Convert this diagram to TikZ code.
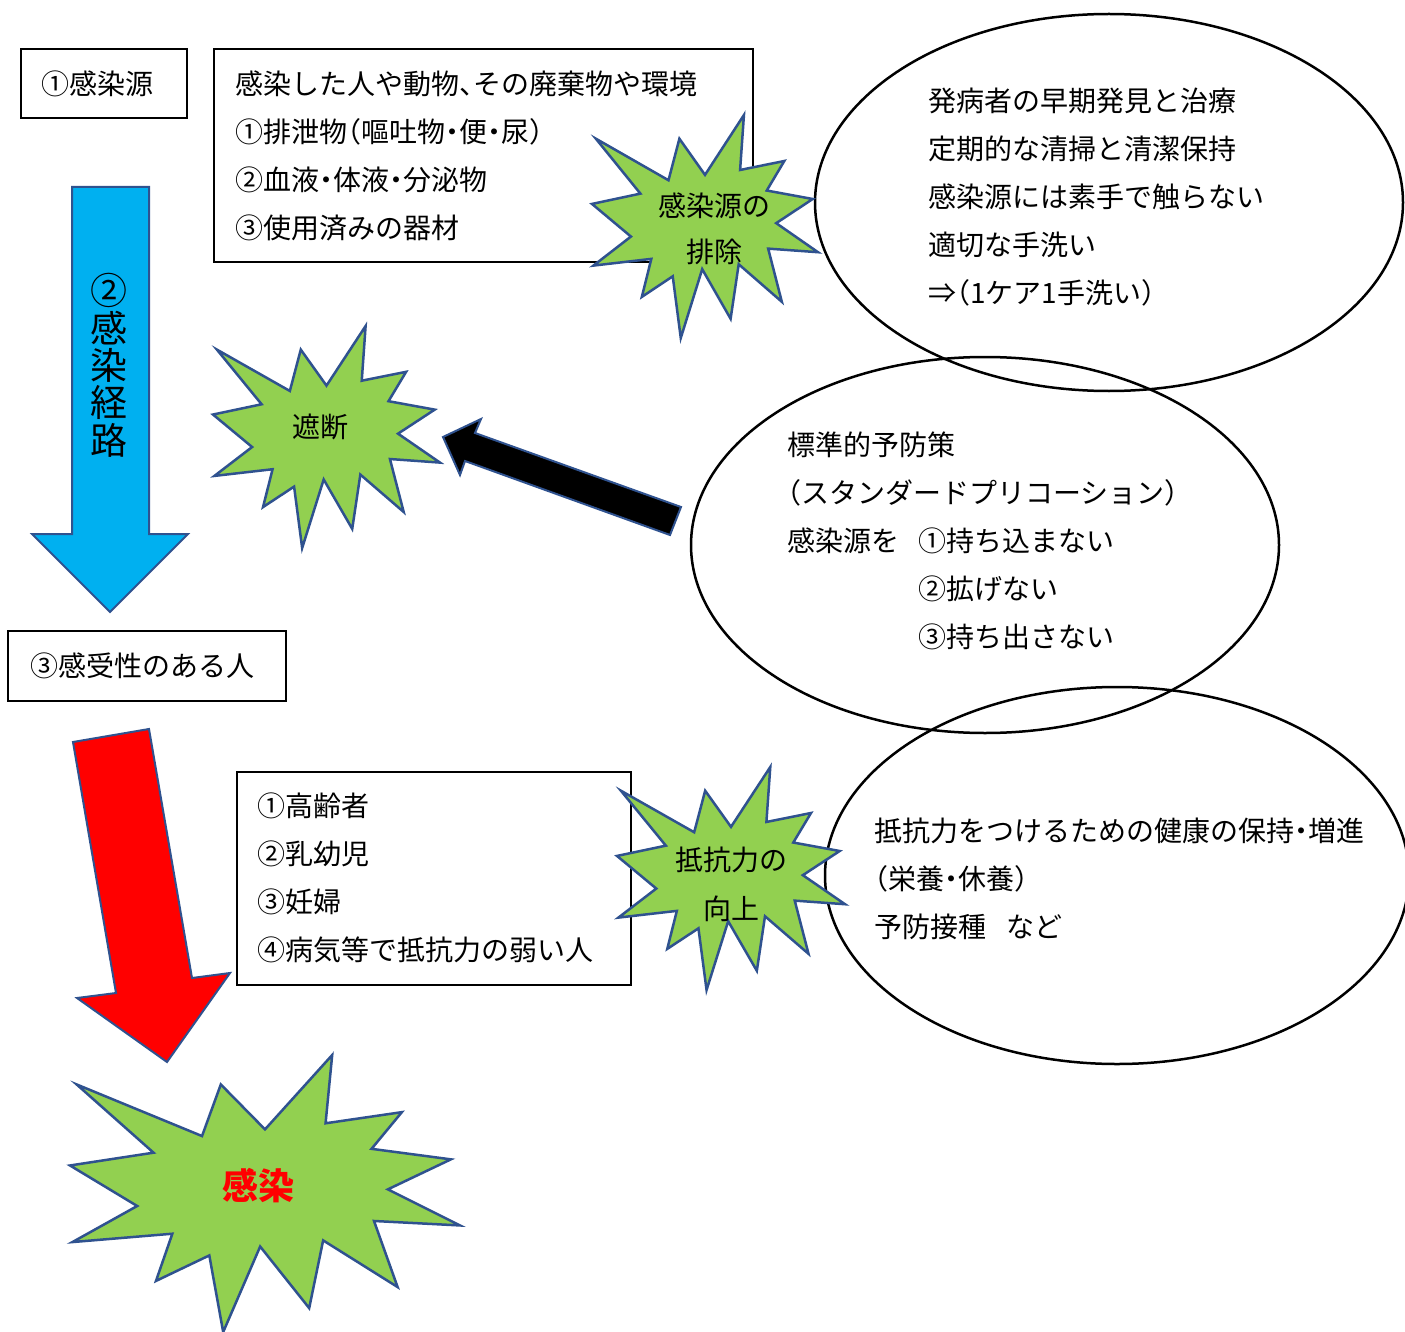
\documentclass[tikz,border=0pt]{standalone}
\usepackage{fontspec}
\setmainfont{Noto Sans CJK JP}[RawFeature={+halt}]
\definecolor{stargreen}{HTML}{92D050}
\definecolor{starblue}{HTML}{2F528F}
\definecolor{arrowcyan}{HTML}{00B0F0}
\newcommand\boom[4]{%
  \begin{scope}[shift={(#1,#2)},xscale=#3/100,yscale=#4/100]
    \draw[starline] (50,26.85) -- (67.23,0) -- (65.53,24.65) -- (85.09,20.63) -- (77.32,33.87) -- (97.67,37.67) -- (81.51,48.50) -- (100,61.53) -- (77.95,59.92) -- (84.00,83.77) -- (64.91,66.93) -- (61.33,91.38) -- (48.76,69.14) -- (39.28,100) -- (35.72,72.35) -- (22.05,81.56) -- (26.24,64.52) -- (0.63,67.53) -- (17.23,54.51) -- (0,39.88) -- (21.42,35.26) -- (1.71,10.63) -- (33.85,29.26) -- (38.67,10.63) -- cycle;
  \end{scope}}
\begin{document}
\begin{tikzpicture}[x=1pt,y=-1pt,
  txt/.style={anchor=west,inner sep=0pt,font=\fontsize{28}{33}\selectfont,text height=24.6pt,text depth=3.4pt},
  ctxt/.style={txt,anchor=center},
  vtxt/.style={anchor=center,inner sep=0pt,font=\fontsize{37}{40}\selectfont,text height=32.6pt,text depth=4.4pt},
  box/.style={draw=black,line width=2pt,fill=white},
  oval/.style={draw=black,line width=2.5pt},
  starline/.style={draw=starblue,line width=2.5pt,fill=stargreen,line join=miter},
  arrowline/.style={draw=starblue,line width=2pt,line join=miter}]

\useasboundingbox (0,0) rectangle (1405,1332);
\clip (0,0) rectangle (1405,1332);

% ellipses
\draw[oval] (1109,202.5) ellipse [x radius=294pt, y radius=188.5pt];
\draw[oval] (985,545) ellipse [x radius=294pt, y radius=188pt];
\draw[oval] (1117,875.5) ellipse [x radius=292pt, y radius=188.5pt];

% boxes
\draw[box] (21,49) rectangle (187,118);
\draw[box] (214,49) rectangle (753,262);
\draw[box] (8,631) rectangle (286,701);
\draw[box] (237,772) rectangle (631,985);

% arrows
\draw[arrowline,fill=arrowcyan] (72,187) -- (149,187) -- (149,534) -- (188,534) -- (110,612) -- (32,534) -- (72,534) -- cycle;
\draw[arrowline,fill=red] (73,742) -- (149,729) -- (192,978) -- (230,973) -- (167,1062) -- (77,998) -- (116,993) -- cycle;
\draw[arrowline,fill=black] (443,437) -- (481,419) -- (475,433) -- (681,507) -- (670,535) -- (465,461) -- (460,475) -- cycle;

% stars
\boom{592}{115}{226}{223}
\boom{213}{326}{227}{222}
\boom{617}{767}{228}{223}
\boom{70}{1055}{390}{277}

% texts
\node[txt] (src) at (41,84) {①感染源};
\node[txt] (srcA) at (235,84) {感染した人や動物、その廃棄物や環境};
\node[txt] (srcB) at (235,132) {①排泄物（嘔吐物・便・尿）};
\node[txt] (srcC) at (235,180) {②血液・体液・分泌物};
\node[txt] (srcD) at (235,228) {③使用済みの器材};

\node[vtxt] (r1) at (109,290) {②};
\node[vtxt] (r2) at (109,328) {感};
\node[vtxt] (r3) at (109,365) {染};
\node[vtxt] (r4) at (109,402) {経};
\node[vtxt] (r5) at (109,440) {路};

\node[txt] (host) at (30,666) {③感受性のある人};
\node[txt] (hA) at (257,806) {①高齢者};
\node[txt] (hB) at (257,854) {②乳幼児};
\node[txt] (hC) at (257,902) {③妊婦};
\node[txt] (hD) at (257,950) {④病気等で抵抗力の弱い人};

\node[ctxt] (s1a) at (714,206) {感染源の};
\node[ctxt] (s1b) at (714,252) {排除};
\node[ctxt] (s2) at (320,427) {遮断};
\node[ctxt] (s3a) at (731,860) {抵抗力の};
\node[ctxt] (s3b) at (731,909) {向上};
\node[vtxt,font=\fontsize{36}{40}\selectfont\bfseries,text=red] (s4) at (258,1185) {感染};

\node[txt] (e1a) at (928,101) {発病者の早期発見と治療};
\node[txt] (e1b) at (928,149) {定期的な清掃と清潔保持};
\node[txt] (e1c) at (928,197) {感染源には素手で触らない};
\node[txt] (e1d) at (928,245) {適切な手洗い};
\node[txt] (e1e) at (928,293) {⇒（1ケア1手洗い）};

\node[txt] (e2a) at (787,445) {標準的予防策};
\node[txt] (e2b) at (787,493) {（スタンダードプリコーション）};
\node[txt] (e2c) at (787,541) {感染源を};
\node[txt] (e2d) at (918,541) {①持ち込まない};
\node[txt] (e2e) at (918,589) {②拡げない};
\node[txt] (e2f) at (918,637) {③持ち出さない};

\node[txt] (e3a) at (874,831) {抵抗力をつけるための健康の保持・増進};
\node[txt] (e3b) at (874,879) {（栄養・休養）};
\node[txt] (e3c) at (874,927) {予防接種\hspace{20pt}など};
\end{tikzpicture}
\end{document}
